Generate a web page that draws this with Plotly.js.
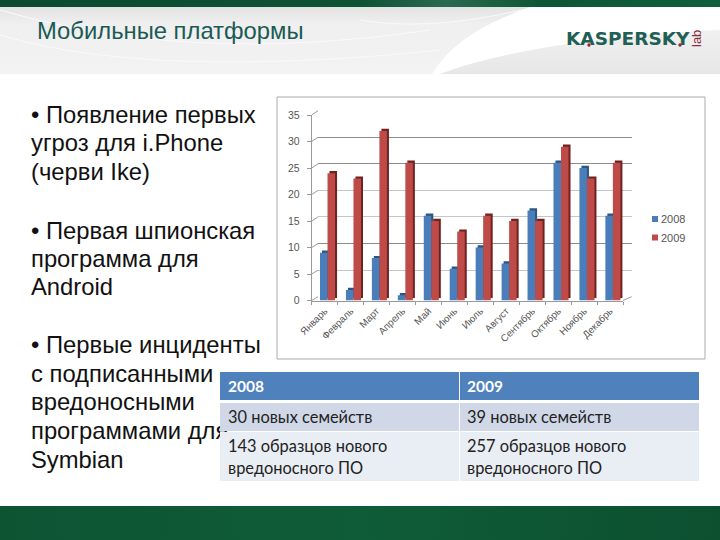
<!DOCTYPE html>
<html><head><meta charset="utf-8">
<script src="https://cdn.plot.ly/plotly-3.0.1.min.js"></script>
<style>html,body{margin:0;padding:0;background:#fff}</style></head>
<body><div id="c" style="width:720px;height:540px"></div>
<script>
const months = ['Январь','Февраль','Март','Апрель','Май','Июнь','Июль','Август','Сентябрь','Октябрь','Ноябрь','Декабрь'];
const series2008 = [9,2,8,1,16,6,10,7,17,26,25,16];
const series2009 = [24,23,32,26,15,13,16,15,15,29,23,26];
const yTicks = [0,5,10,15,20,25,30,35];
const gridDark = [0,10,25,30,35];
const gridLight = [5,15,20];
const titleText = 'Мобильные платформы';
const bulletText = ['• Появление первых','угроз для i.Phone','(черви Ike)','• Первая шпионская','программа для','Android','• Первые инциденты','с подписанными','вредоносными','программами для','Symbian'];
const bulletY = [117.5,145.5,174.5,233.5,261.5,289.5,347.5,376.5,404.5,433.5,462.5];
const legendNames = ['2008','2009'];
const tableHeader = ['2008','2009'];
const row1 = ['30 новых семейств','39 новых семейств'];
const row2a = ['143 образцов нового','257 образцов нового'];
const row2b = ['вредоносного ПО','вредоносного ПО'];

const W=720,H=540;
const px=x=>x/W, py=y=>1-y/H;
const BLUE='#4a7ebb',RED='#be4b48',BLUE_D='#2c5580',RED_D='#6f2220';
const bg='data:image/svg+xml,'+encodeURIComponent(`<svg xmlns="http://www.w3.org/2000/svg" width="720" height="540">
<defs>
<linearGradient id="t" x1="0" x2="1" y1="0" y2="0"><stop offset="0" stop-color="#0b4a30"/><stop offset=".5" stop-color="#0e5236"/><stop offset=".62" stop-color="#2a6a50"/><stop offset=".75" stop-color="#0d5636"/><stop offset="1" stop-color="#0f5f3c"/></linearGradient>
<linearGradient id="h" x1="0" x2="0" y1="0" y2="1"><stop offset="0" stop-color="#e2e3e2"/><stop offset=".25" stop-color="#eeefee"/><stop offset="1" stop-color="#f3f3f3"/></linearGradient>
<linearGradient id="s" x1="0" x2="0" y1="0" y2="1"><stop offset="0" stop-color="#f0f0f0"/><stop offset="1" stop-color="#e6e7e6"/></linearGradient>
<linearGradient id="b" x1="0" x2="1" y1="0" y2="0"><stop offset="0" stop-color="#0d5433"/><stop offset=".5" stop-color="#0f5c38"/><stop offset="1" stop-color="#0c5030"/></linearGradient>
</defs>
<rect width="720" height="540" fill="#fff"/>
<path d="M0 7H530C480 25 450 45 432 74H0Z" fill="url(#h)"/>
<path d="M440 74C510 48 620 34 720 30V74Z" fill="url(#s)"/>
<path d="M0 10C120 45 260 55 430 30M0 35C100 65 250 70 440 50M360 20C420 30 480 20 530 8" fill="none" stroke="#fafafa" stroke-width="1"/>
<rect width="720" height="7" fill="url(#t)"/>
<rect y="506" width="720" height="34" fill="url(#b)"/>
</svg>`);

const depthCommon={type:'bar',xaxis:'x2',yaxis:'y2',showlegend:false,hoverinfo:'skip',width:0.29};
const frontCommon={type:'bar',xaxis:'x3',yaxis:'y3',hoverinfo:'x+y',width:0.29,showlegend:false};
const traces=[
  {type:'scatter',mode:'markers',x:months,y:series2008,xaxis:'x',yaxis:'y',marker:{opacity:0},showlegend:false,hoverinfo:'skip'},
  Object.assign({x:months,y:series2008,offset:-0.18,marker:{color:BLUE_D},name:'2008 depth'},depthCommon),
  Object.assign({x:months,y:series2009,offset:0.11,marker:{color:RED_D},name:'2009 depth'},depthCommon),
  Object.assign({x:months,y:series2008,offset:-0.18,marker:{color:BLUE},name:'2008'},frontCommon),
  Object.assign({x:months,y:series2009,offset:0.11,marker:{color:RED},name:'2009'},frontCommon),
  {type:'scatter',mode:'text',xaxis:'x4',yaxis:'y4',x:bulletY.map(()=>31),y:bulletY,text:bulletText,textposition:'middle right',cliponaxis:false,
   showlegend:false,hoverinfo:'skip',textfont:{family:'Liberation Sans, Arial, sans-serif',size:23.8,color:'#111'}}
];

const ann=[];
const put=(t,x,y,size,color,family,extra)=>ann.push(Object.assign({text:t,xref:'paper',yref:'paper',x:px(x),y:py(y),xanchor:'left',yanchor:'middle',showarrow:false,
  font:{family:family,size:size,color:color}},extra||{}));
const SANS='Liberation Sans, Arial, sans-serif', LATO='Lato, sans-serif';
put(titleText,34.5,30.5,23.8,'#1b5a55',SANS);
put('<b>KASPERSKY</b>',564,38.5,18.5,'#1f5f55','DejaVu Sans, sans-serif');
put('lab',697,39,13,'#8a3040',SANS,{xanchor:'center',textangle:-90});
legendNames.forEach((t,i)=>put(t,659,219+i*18.5,11,'#555',SANS));
const colX=[226,465];
[0,1].forEach(i=>{
  put('<b>'+tableHeader[i]+'</b>',colX[i],386,15.5,'#fff',LATO);
  put(row1[i],colX[i],416,16.4,'#222',LATO);
  put(row2a[i],colX[i],445,16.4,'#222',LATO);
  put(row2b[i],colX[i],467,16.4,'#222',LATO);
});

const axHidden={showgrid:false,zeroline:false,showticklabels:false,ticks:'',showline:false};
const paperRect=(x0,x1,y0,y1,c)=>({type:'rect',xref:'paper',yref:'paper',x0:px(x0),x1:px(x1),y0:py(y1),y1:py(y0),fillcolor:c,line:{width:0},layer:'above'});
const paperLine=(x0,y0,x1,y1)=>({type:'line',xref:'paper',yref:'paper',x0:px(x0),x1:px(x1),y0:py(y0),y1:py(y1),line:{color:'#999',width:1}});
const frontY=v=>300.5-v*(300.5-115)/35, backY=v=>296.7-v*(296.7-110.7)/35;
const dot=(x,y)=>({type:'circle',xref:'paper',yref:'paper',x0:px(x-1.7),x1:px(x+1.7),y0:py(y+1.7),y1:py(y-1.7),fillcolor:'#a02030',line:{width:0}});
const layout={
  width:W,height:H,margin:{l:0,r:0,t:0,b:0},paper_bgcolor:'#fff',plot_bgcolor:'rgba(0,0,0,0)',
  barmode:'overlay',showlegend:false,
  images:[{source:bg,xref:'paper',yref:'paper',x:0,y:1,sizex:1,sizey:1,sizing:'stretch',layer:'below',xanchor:'left',yanchor:'top'}],
  shapes:[
    {type:'rect',xref:'paper',yref:'paper',x0:px(277),x1:px(705),y0:py(359),y1:py(97),line:{color:'#ababab',width:1},fillcolor:'#fff',layer:'below'},
    paperLine(623,300.5,631.7,296.7),
    ...yTicks.map(v=>paperLine(311.7,frontY(v),318,backY(v))),
    dot(589,45),dot(680,45),
    paperRect(652,658,216,222,BLUE),paperRect(652,658,234.5,240.5,RED),
    paperRect(220,459,372,400,'#4f81bd'),paperRect(460,699,372,400,'#4f81bd'),
    paperRect(220,459,403,431,'#d0d8e8'),paperRect(460,699,403,431,'#d0d8e8'),
    paperRect(220,459,432,481,'#e9edf4'),paperRect(460,699,432,481,'#e9edf4')
  ],
  xaxis:Object.assign({domain:[px(318),px(631.7)],type:'category',range:[-0.5,11.5],anchor:'y',categoryorder:'array',categoryarray:months},axHidden),
  yaxis:{domain:[py(296.7),py(110.7)],range:[0,35],anchor:'x',tickvals:gridDark,showgrid:true,gridcolor:'#8c8c8c',gridwidth:1,zeroline:false,showticklabels:false,ticks:'',showline:false,
    minor:{tickvals:gridLight,showgrid:true,gridcolor:'#c6c6c6',gridwidth:1,ticks:''}},
  xaxis2:Object.assign({domain:[px(313.7),px(625)],type:'category',range:[-0.5,11.5],anchor:'y2',categoryorder:'array',categoryarray:months},axHidden),
  yaxis2:Object.assign({domain:[py(298.3),py(112.8)],range:[0,35],anchor:'x2'},axHidden),
  xaxis3:{domain:[px(311.7),px(623)],type:'category',range:[-0.5,11.5],anchor:'y3',categoryorder:'array',categoryarray:months,
    tickangle:-45,showgrid:false,zeroline:false,showline:true,linecolor:'#999',linewidth:1,ticks:'outside',tickson:'boundaries',ticklen:3,tickcolor:'#999',
    tickfont:{family:'Liberation Sans, sans-serif',size:9.8,color:'#555'}},
  yaxis3:{domain:[py(300.5),py(115)],range:[0,35],anchor:'x3',tickvals:yTicks,showgrid:false,zeroline:false,showline:true,linecolor:'#999',linewidth:1,ticks:'outside',ticklen:4,tickcolor:'#999',ticklabelstandoff:5,
    tickfont:{family:'Liberation Sans, sans-serif',size:10.5,color:'#555'}},
  xaxis4:Object.assign({domain:[0,1],range:[0,W],anchor:'y4'},axHidden),
  yaxis4:Object.assign({domain:[0,1],range:[H,0],anchor:'x4'},axHidden),
  annotations:ann
};
Plotly.newPlot('c',traces,layout,{displayModeBar:false,staticPlot:true});
</script></body></html>
